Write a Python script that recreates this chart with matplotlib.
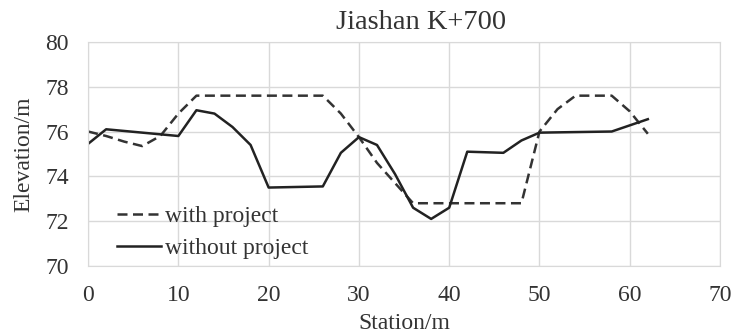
import numpy as np
import matplotlib
matplotlib.use("Agg")
import matplotlib.pyplot as plt

station_with = [0, 2, 4, 6, 8, 10, 12, 14, 16, 18, 20, 22, 24, 26, 28, 30, 32, 34, 36,
                38, 40, 42, 44, 46, 48, 50, 52, 54, 56, 58, 60, 62]
elev_with = [76.0, 75.8, 75.55, 75.35, 75.8, 76.8, 77.6, 77.6, 77.6, 77.6, 77.6, 77.6,
             77.6, 77.6, 76.8, 75.75, 74.6, 73.7, 72.8, 72.8, 72.8, 72.8, 72.8, 72.8,
             72.8, 76.0, 77.0, 77.6, 77.6, 77.6, 76.9, 75.9]

station_without = [0, 2, 10, 12, 14, 16, 18, 20, 26, 28, 30, 32, 34, 36, 38, 40, 42,
                   46, 48, 50, 58, 62]
elev_without = [75.45, 76.1, 75.8, 76.95, 76.8, 76.2, 75.4, 73.5, 73.55, 75.05, 75.75,
                75.4, 74.1, 72.6, 72.1, 72.6, 75.1, 75.05, 75.6, 75.95, 76.0, 76.55]

plt.rcParams['font.family'] = ['Liberation Serif', 'DejaVu Serif']
txt = '#333333'

fig = plt.figure(figsize=(7.34, 3.35), dpi=100)
ax = fig.add_axes([0.12, 0.206, 0.861, 0.669])

ax.plot(station_with, elev_with, color='#333333', lw=1.8, ls=(0, (4, 2.2)), label='with project')
ax.plot(station_without, elev_without, color='#222222', lw=1.8, label='without project')

ax.set_xlim(0, 70)
ax.set_ylim(70, 80)
ax.set_xticks(np.arange(0, 71, 10))
ax.set_yticks(np.arange(70, 81, 2))
ax.grid(True, color='#d9d9d9', lw=1)
ax.set_axisbelow(True)
for s in ax.spines.values():
    s.set_color('#d9d9d9')
ax.tick_params(axis='y', length=0, labelsize=17, pad=14, colors=txt)
ax.tick_params(axis='x', length=0, labelsize=17, pad=14, colors=txt)

ax.set_xlabel('Station/m', fontsize=17, labelpad=5, color=txt)
ax.set_ylabel('Elevation/m', fontsize=17, labelpad=8, color=txt)
ax.set_title('Jiashan K+700', fontsize=20.5, x=0.527, pad=9, color=txt)

ax.legend(loc='lower left', frameon=False, fontsize=17, handlelength=1.85,
          bbox_to_anchor=(0.012, -0.065), labelspacing=0.45, handletextpad=0.2,
          labelcolor=txt)

fig.savefig('out.png', dpi=100)
